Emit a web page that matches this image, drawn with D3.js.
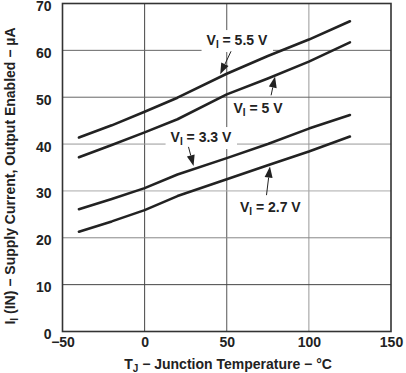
<!DOCTYPE html>
<html><head><meta charset="utf-8">
<script src="https://cdn.jsdelivr.net/npm/d3@7"></script>
<style>body{margin:0;background:#fff}svg{display:block}</style></head>
<body><svg id="c" width="406" height="373"></svg>
<script>
// ---- data ----
const temps = [-40, -20, 0, 20, 50, 75, 100, 125];
const vi55 = [41.4, 44.0, 46.9, 49.9, 55.0, 58.8, 62.3, 66.2];
const vi50 = [37.2, 39.8, 42.5, 45.3, 50.6, 54.0, 57.6, 61.7];
const vi33 = [26.1, 28.3, 30.6, 33.5, 37.0, 40.0, 43.3, 46.2];
const vi27 = [21.3, 23.5, 25.9, 28.9, 32.5, 35.5, 38.4, 41.6];
const xTicks = [-50, 0, 50, 100, 150];
const yTicks = [0, 10, 20, 30, 40, 50, 60, 70];
const seriesNames = ["5.5 V", "5 V", "3.3 V", "2.7 V"];

const svg = d3.select("#c");
const m = {l: 62.5, r: 391, t: 3.5, b: 331.5};
const x = d3.scaleLinear().domain([-50, 150]).range([m.l, m.r]);
const y = d3.scaleLinear().domain([0, 70]).range([m.b, m.t]);
const font = "'Liberation Sans', Arial, Helvetica, sans-serif";

// grid
const vGridColor = {0: "#444", 50: "#555", 100: "#999"};
const hGridColor = {10: "#444", 20: "#888", 30: "#aaa", 40: "#999", 50: "#666", 60: "#666"};
svg.append("g").selectAll("line").data(xTicks.filter(d => d > -50 && d < 150)).join("line")
  .attr("x1", d => x(d)).attr("x2", d => x(d)).attr("y1", m.t).attr("y2", m.b)
  .attr("stroke", d => vGridColor[d] || "#777").attr("stroke-width", 1);
svg.append("g").selectAll("line").data(yTicks.filter(d => d > 0 && d < 70)).join("line")
  .attr("y1", d => y(d)).attr("y2", d => y(d)).attr("x1", m.l).attr("x2", m.r)
  .attr("stroke", d => hGridColor[d] || "#777").attr("stroke-width", 1);

// frame
svg.append("rect").attr("x", m.l).attr("y", m.t).attr("width", m.r - m.l).attr("height", m.b - m.t)
  .attr("fill", "none").attr("stroke", "#333").attr("stroke-width", 1.6);

// axes tick labels
const xAxis = d3.axisBottom(x).tickValues(xTicks).tickSize(0).tickPadding(6);
const gx = svg.append("g").attr("transform", `translate(0,${m.b})`).call(xAxis);
gx.select(".domain").remove();
gx.selectAll("text").attr("font-family", font).attr("font-weight", "bold").attr("font-size", 14).attr("fill", "#222");
const yAxis = d3.axisLeft(y).tickValues(yTicks).tickSize(0).tickPadding(11);
const gy = svg.append("g").attr("transform", `translate(${m.l},2.5)`).call(yAxis);
gy.select(".domain").remove();
gy.selectAll("text").attr("font-family", font).attr("font-weight", "bold").attr("font-size", 14).attr("fill", "#222");

// curves
const line = d3.line().x((d, i) => x(temps[i])).y(d => y(d));
svg.append("g").selectAll("path").data([vi55, vi50, vi33, vi27]).join("path")
  .attr("d", line).attr("fill", "none").attr("stroke", "#222").attr("stroke-width", 2.6)
  .attr("stroke-linejoin", "round").attr("stroke-linecap", "round");

// annotations (label center, arrow tail, arrow tip; in data units)
const notes = [
  {name: seriesNames[0], c: [56.2, 62.2], tail: [52.6, 59.8], tip: [46.0, 54.9]},
  {name: seriesNames[1], c: [69.0, 47.6], tail: [77.0, 50.4], tip: [79.4, 54.4]},
  {name: seriesNames[2], c: [34.3, 41.5], tail: [26.7, 39.4], tip: [29.8, 35.3]},
  {name: seriesNames[3], c: [76.5, 26.6], tail: [74.2, 29.1], tip: [76.3, 35.2]}
];
const ng = svg.append("g");
notes.forEach(n => {
  const cx = x(n.c[0]), cy = y(n.c[1]);
  const t = ng.append("text").attr("x", cx).attr("y", cy + 5).attr("text-anchor", "middle")
    .attr("font-family", font).attr("font-weight", "bold").attr("font-size", 14).attr("fill", "#222");
  t.append("tspan").text("V");
  t.append("tspan").text("I").attr("font-size", 10).attr("dy", 3);
  t.append("tspan").text(" = " + n.name).attr("dy", -3);
  const bb = t.node().getBBox();
  ng.insert("rect", () => t.node()).attr("x", bb.x - 5).attr("y", bb.y - 2)
    .attr("width", bb.width + 10).attr("height", bb.height + 4).attr("fill", "#fff");
  const x1 = x(n.tail[0]), y1 = y(n.tail[1]), x2 = x(n.tip[0]), y2 = y(n.tip[1]);
  const a = Math.atan2(y2 - y1, x2 - x1), L = 11, W = 4;
  const bx = x2 - L * Math.cos(a), by = y2 - L * Math.sin(a);
  ng.append("line").attr("x1", x1).attr("y1", y1).attr("x2", bx).attr("y2", by)
    .attr("stroke", "#222").attr("stroke-width", 1);
  ng.append("path").attr("d", `M${x2},${y2}L${bx + W * Math.sin(a)},${by - W * Math.cos(a)}L${bx - W * Math.sin(a)},${by + W * Math.cos(a)}Z`)
    .attr("fill", "#222");
});

// axis titles
const xt = svg.append("text").attr("x", 228).attr("y", 369).attr("text-anchor", "middle")
  .attr("font-family", font).attr("font-weight", "bold").attr("font-size", 14).attr("fill", "#222");
xt.append("tspan").text("T");
xt.append("tspan").text("J").attr("font-size", 10).attr("dy", 2.5);
xt.append("tspan").text(" \u2212 Junction Temperature \u2212 \u00B0C").attr("dy", -2.5);

const yt = svg.append("text").attr("transform", "translate(15,176) rotate(-90)").attr("text-anchor", "middle")
  .attr("font-family", font).attr("font-weight", "bold").attr("font-size", 14).attr("fill", "#222");
yt.append("tspan").text("I");
yt.append("tspan").text("I").attr("font-size", 10).attr("dy", 3);
yt.append("tspan").text(" (IN) \u2212 Supply Current, Output Enabled \u2212 \u00B5A").attr("dy", -3);
</script></body></html>
